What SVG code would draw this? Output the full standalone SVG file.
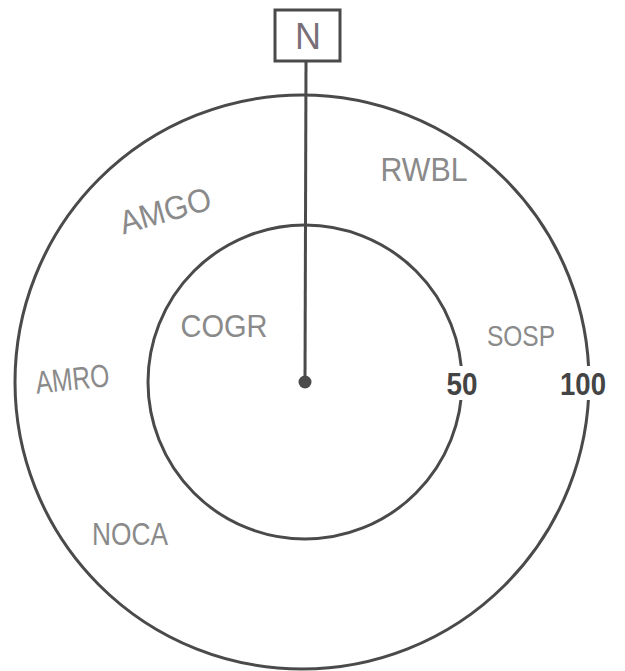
<svg xmlns="http://www.w3.org/2000/svg" width="625" height="671" viewBox="0 0 625 671">
<style>
.ring{fill:none;stroke:#4a4a4a;stroke-width:3}
.hand{font-family:"Liberation Sans",Arial,sans-serif;fill:#8a8a8a;text-anchor:middle}
.num{font-family:"Liberation Sans",Arial,sans-serif;font-weight:bold;fill:#444;text-anchor:middle;font-size:31px}
</style>
<rect width="625" height="671" fill="#fff"/>
<g id="outer-ring"><circle class="ring" cx="302" cy="382" r="287"/></g>
<g id="inner-ring"><circle class="ring" cx="305" cy="382" r="157"/></g>
<g id="connectors">
<line x1="306" y1="61" x2="305" y2="382" stroke="#4a4a4a" stroke-width="3"/>
</g>
<g id="center"><circle cx="305" cy="382" r="6.5" fill="#4a4a4a"/></g>
<g id="north">
<rect x="275" y="10" width="65" height="51" fill="#fff" stroke="#4a4a4a" stroke-width="3"/>
<text x="308" y="49" class="hand" font-size="36" style="fill:#7a6f78">N</text>
</g>
<g id="label-50"><rect x="444" y="366" width="36" height="34" fill="#fff"/><text class="num" x="462" y="395" textLength="31" lengthAdjust="spacingAndGlyphs">50</text></g>
<g id="label-100"><rect x="562" y="366" width="52" height="34" fill="#fff"/><text class="num" x="583" y="395" textLength="46" lengthAdjust="spacingAndGlyphs">100</text></g>
<g id="rwbl"><text class="hand" x="424" y="181" font-size="34" textLength="87" lengthAdjust="spacingAndGlyphs">RWBL</text></g>
<g id="amgo"><text class="hand" x="165" y="222" font-size="33" textLength="94" lengthAdjust="spacingAndGlyphs" transform="rotate(-16 165 210)">AMGO</text></g>
<g id="cogr"><text class="hand" x="224" y="337" font-size="32" textLength="87" lengthAdjust="spacingAndGlyphs">COGR</text></g>
<g id="sosp"><text class="hand" x="521" y="346" font-size="30" textLength="68" lengthAdjust="spacingAndGlyphs">SOSP</text></g>
<g id="amro"><text class="hand" x="72" y="390" font-size="32" textLength="74" lengthAdjust="spacingAndGlyphs" transform="rotate(-6 72 376)">AMRO</text></g>
<g id="noca"><text class="hand" x="130" y="545" font-size="32" textLength="76" lengthAdjust="spacingAndGlyphs">NOCA</text></g>
</svg>
